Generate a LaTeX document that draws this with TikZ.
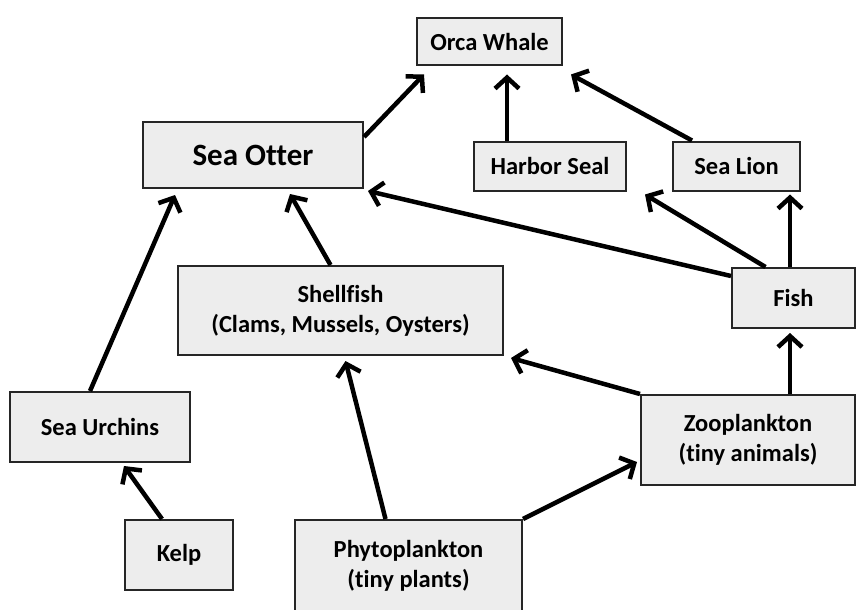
\documentclass[tikz,border=0pt]{standalone}
\usepackage{fontspec}
\setmainfont{Carlito}[Ligatures={NoCommon}]
\usetikzlibrary{arrows.meta}

\begin{document}
\begin{tikzpicture}[x=1pt,y=-1pt,
		box/.style={draw=black!85,line width=2pt,fill=black!7,align=center,inner sep=0pt,
			font=\fontsize{24.5}{30}\selectfont\bfseries},
		feeds/.style={line width=4.5pt,-{Straight Barb[length=11pt,width=24pt,line width=4.5pt]}}]
		\useasboundingbox (0,0) rectangle (857,610);

		\node[box,minimum width=145pt,minimum height=47pt] (orca) at (489.5,42) {Orca Whale};
		\node[box,minimum width=220pt,minimum height=66pt,font=\fontsize{31}{36}\selectfont\bfseries] (otter) at (253,155) {Sea Otter};
		\node[box,minimum width=152pt,minimum height=49pt] (harbor) at (550,166) {Harbor Seal};
		\node[box,minimum width=127pt,minimum height=49pt] (lion) at (736.5,166) {Sea Lion};
		\node[box,minimum width=325pt,minimum height=89pt] (shell) at (340.5,310.5) {Shellfish\\(Clams, Mussels, Oysters)};
		\node[box,minimum width=123pt,minimum height=60pt] (fish) at (793.5,298) {Fish};
		\node[box,minimum width=180pt,minimum height=70pt] (urchin) at (100,427) {Sea Urchins};
		\node[box,minimum width=214pt,minimum height=90pt] (zoo) at (748,440) {Zooplankton\\(tiny animals)};
		\node[box,minimum width=108pt,minimum height=70pt] (kelp) at (179,555) {Kelp};
		\node[box,minimum width=227pt,minimum height=92pt] (phyto) at (408.5,566) {Phytoplankton\\(tiny plants)};

		\draw[feeds] ([yshift=-16pt]otter.north east) -- ([shift={(8pt,-8pt)}]orca.south west);
		\draw[feeds] ([xshift=-43pt]harbor.north) -- ([shift={(17.5pt,-8pt)}]orca.south);
		\draw[feeds] ([xshift=-44.5pt]lion.north) -- ([shift={(8pt,-8pt)}]orca.south east);
		\draw[feeds] ([yshift=-9pt]fish.north west) -- ([shift={(4pt,-2pt)}]otter.south east);
		\draw[feeds] ([xshift=-28pt]fish.north) -- ([shift={(18pt,-3pt)}]harbor.south east);
		\draw[feeds] ([xshift=-3.5pt]fish.north) -- ([shift={(53.5pt,-3pt)}]lion.south);
		\draw[feeds] ([xshift=-10pt]shell.north) -- ([shift={(37pt,-5pt)}]otter.south);
		\draw[feeds] ([xshift=-10pt]urchin.north) -- ([shift={(33pt,-6pt)}]otter.south west);
		\draw[feeds] ([xshift=-17pt]kelp.north) -- ([shift={(24pt,-3pt)}]urchin.south);
		\draw[feeds] ([xshift=-23pt]phyto.north) -- ([shift={(5pt,-5pt)}]shell.south);
		\draw[feeds] (phyto.north east) -- ([shift={(-3pt,-22pt)}]zoo.west);
		\draw[feeds] (zoo.north west) -- ([shift={(7pt,-2pt)}]shell.south east);
		\draw[feeds] ([xshift=42pt]zoo.north) -- ([shift={(-3.5pt,-4pt)}]fish.south);

\end{tikzpicture}
\end{document}
